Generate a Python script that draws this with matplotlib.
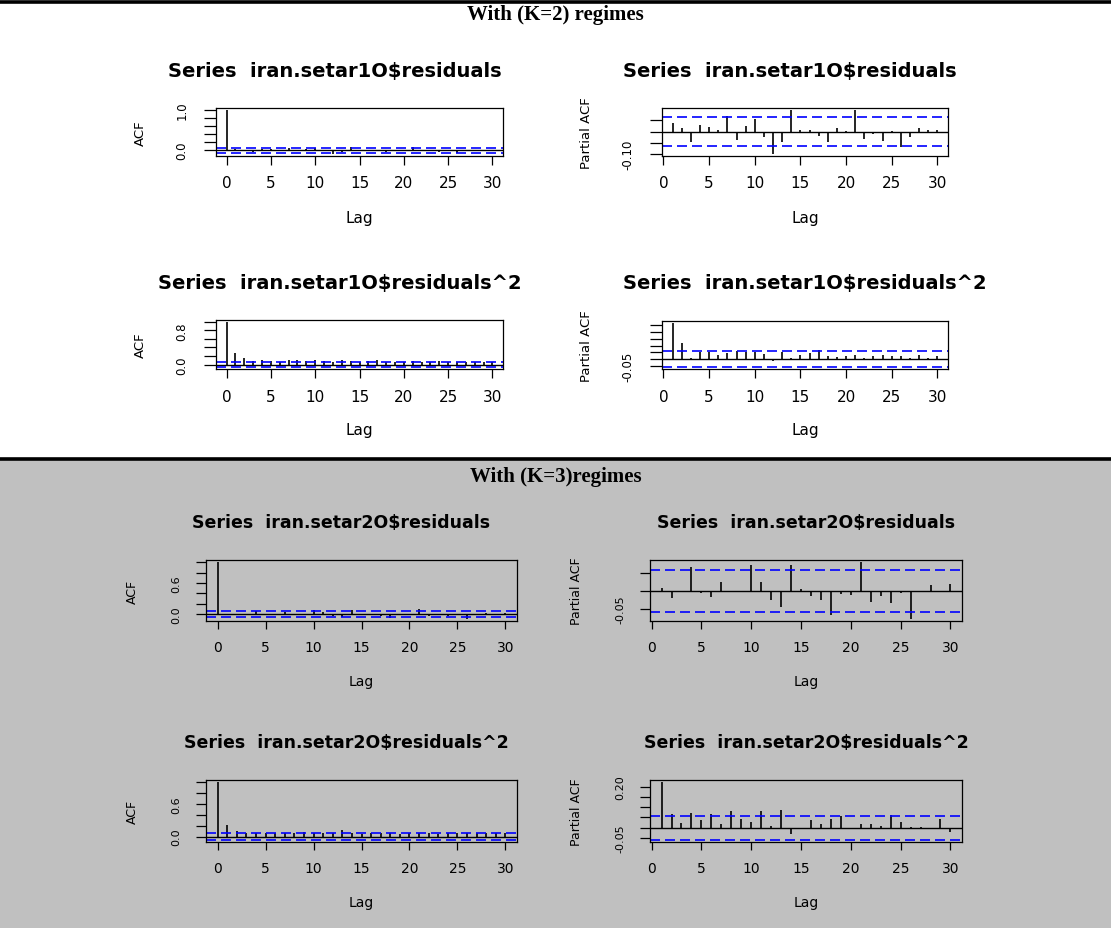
import matplotlib.pyplot as plt
import matplotlib.transforms as mtransforms
from matplotlib.patches import Rectangle
from matplotlib.lines import Line2D
import numpy as np

W, H = 1111, 929

lags_acf = list(range(0, 31))
lags_pacf = list(range(1, 31))

# SETAR with 2 regimes (iran.setar1O)
acf_res_k2 = [1.0, 0.035, 0.012, -0.040, 0.028, 0.020, 0.008, 0.062, -0.030, 0.024, 0.048,
              -0.020, -0.100, -0.040, 0.085, 0.006, 0.004, -0.020, -0.040, 0.012, 0.004,
              0.090, -0.030, -0.012, -0.038, 0.006, -0.062, -0.020, 0.014, 0.008, 0.005]
pacf_res_k2 = [0.037, 0.015, -0.044, 0.030, 0.022, 0.005, 0.069, -0.037, 0.025, 0.054,
               -0.022, -0.100, -0.044, 0.093, 0.005, 0.005, -0.019, -0.044, 0.015, 0.003,
               0.096, -0.034, -0.010, -0.041, 0.004, -0.069, -0.022, 0.015, 0.006, 0.006]
acf_sq_k2 = [1.0, 0.28, 0.15, 0.08, 0.10, 0.09, 0.07, 0.10, 0.11, 0.09, 0.10, 0.08, 0.06,
             0.10, 0.08, 0.07, 0.09, 0.10, 0.07, 0.06, 0.07, 0.08, 0.06, 0.07, 0.08, 0.07,
             0.06, 0.07, 0.06, 0.07, 0.06]
pacf_sq_k2 = [0.27, 0.12, 0.01, 0.05, 0.05, 0.03, 0.045, 0.06, 0.05, 0.05, 0.035, -0.015,
              0.055, 0.01, 0.03, 0.045, 0.065, 0.02, 0.015, 0.025, 0.03, 0.01, 0.02, 0.03,
              0.02, 0.025, 0.01, 0.03, 0.01, 0.02]
n_used_k2 = 1000

# SETAR with 3 regimes (iran.setar2O)
acf_res_k3 = [1.0, 0.010, -0.022, -0.005, 0.068, -0.008, -0.020, 0.035, -0.004, -0.003, 0.070,
              0.035, -0.030, -0.055, 0.085, 0.005, -0.015, -0.032, -0.080, -0.010, -0.015,
              0.090, -0.040, -0.020, -0.045, -0.010, -0.090, -0.006, 0.018, -0.004, 0.020]
pacf_res_k3 = [0.008, -0.020, -0.003, 0.066, -0.005, -0.016, 0.026, -0.002, -0.002, 0.072,
               0.026, -0.026, -0.044, 0.072, 0.004, -0.013, -0.026, -0.067, -0.009, -0.012,
               0.080, -0.031, -0.015, -0.035, -0.007, -0.078, -0.004, 0.015, -0.004, 0.018]
acf_sq_k3 = [1.0, 0.22, 0.105, 0.06, 0.07, 0.06, 0.06, 0.07, 0.06, 0.08, 0.06, 0.07, 0.06,
             0.12, 0.06, 0.05, 0.06, 0.07, 0.06, 0.05, 0.06, 0.07, 0.06, 0.05, 0.07, 0.06,
             0.06, 0.07, 0.06, 0.07, 0.06]
pacf_sq_k3 = [0.221, 0.065, 0.024, 0.070, 0.037, 0.065, 0.016, 0.081, 0.044, 0.030, 0.081,
              0.008, 0.087, -0.030, -0.002, 0.037, 0.016, 0.044, 0.056, -0.005, 0.016, 0.016,
              0.010, 0.060, 0.030, 0.006, 0.006, -0.002, 0.041, -0.022]
n_used_k3 = 1140

fig = plt.figure(figsize=(W / 100, H / 100), dpi=100)

# white upper block, grey lower block, thick rules
fig.patches.append(Rectangle((0, 0), 1, 1 - 461 / H, transform=fig.transFigure,
                             facecolor='#c0c0c0', edgecolor='none', zorder=-5))
fig.add_artist(Line2D([0, 1], [1 - 3 / H] * 2, color='black', lw=2.6))
fig.add_artist(Line2D([0, 1], [1 - 460 / H] * 2, color='black', lw=2.6))
fig.text(0.5, 1 - 15 / H, 'With (K=2) regimes', ha='center', va='center',
         family='Liberation Serif', weight='bold', fontsize=15)
fig.text(0.5, 1 - 477 / H, 'With (K=3)regimes', ha='center', va='center',
         family='Liberation Serif', weight='bold', fontsize=15)

top = dict(title=14, tick=11, ylab=9.5, ytick=8.5, xlen=6.5, ylen=8.6,
           tick_off=27, lag_off=61, ytick_off=34, ylab_off=76)
bot = dict(title=12.5, tick=10, ylab=9, ytick=8, xlen=5.5, ylen=7.2,
           tick_off=26, lag_off=60, ytick_off=30, ylab_off=74)


def px(ax, dx=0, dy=0):
    return mtransforms.offset_copy(ax.transAxes, fig=fig, x=dx * 0.72, y=dy * 0.72,
                                   units='points')


def corr_panel(box, lags, vals, n_used, title, ylab, yticks, ylabels, st, title_dx=0):
    x0, y0, x1, y1 = box
    ax = fig.add_axes([x0 / W, 1 - y1 / H, (x1 - x0) / W, (y1 - y0) / H])
    ax.set_facecolor('none')
    ci = 1.96 / np.sqrt(n_used)
    ax.vlines(lags, 0, vals, color='black', lw=1.2)
    ax.axhline(0, color='black', lw=1.0)
    for c in (ci, -ci):
        ax.axhline(c, color='#0000ff', lw=1.2, ls=(0, (6, 3)))

    lo = min(min(vals), -ci)
    hi = max(max(vals), ci)
    ax.set_ylim(lo - 0.04 * (hi - lo), hi + 0.04 * (hi - lo))
    xl = (lags[-1] - lags[0]) * 0.04
    ax.set_xlim(lags[0] - xl, lags[-1] + xl)

    ax.set_xticks(range(0, 31, 5))
    ax.set_xticklabels([])
    ax.set_yticks(yticks)
    ax.set_yticklabels([])
    ax.tick_params(axis='x', length=st['xlen'], width=0.9)
    ax.tick_params(axis='y', length=st['ylen'], width=0.9)
    for s in ax.spines.values():
        s.set_linewidth(0.9)

    for t in range(0, 31, 5):
        ax.text(t, 0, str(t), fontsize=st['tick'], ha='center', va='center',
                transform=mtransforms.blended_transform_factory(ax.transData, px(ax, 0, -st['tick_off'])))
    for v, lab in zip(yticks, ylabels):
        if lab:
            ax.text(0, v, lab, fontsize=st['ytick'], ha='center', va='center', rotation=90,
                    transform=mtransforms.blended_transform_factory(px(ax, -st['ytick_off'], 0), ax.transData))

    ax.text(0.5, 1, title, transform=px(ax, title_dx, 38), ha='center', va='center',
            fontsize=st['title'], weight='bold')
    ax.text(0.5, 0, 'Lag', transform=px(ax, 0, -st['lag_off']), ha='center', va='center',
            fontsize=st['tick'])
    ax.text(0, 0.5, ylab, transform=px(ax, -st['ylab_off'], 0), ha='center', va='center',
            rotation=90, fontsize=st['ylab'])
    return ax


unit = [0, 0.2, 0.4, 0.6, 0.8, 1.0]

corr_panel((216, 109, 503, 157), lags_acf, acf_res_k2, n_used_k2,
           'Series  iran.setar1O$residuals', 'ACF', unit,
           ['0.0', '', '', '', '', '1.0'], top, title_dx=-25)
corr_panel((662, 109, 948, 157), lags_pacf, pacf_res_k2, n_used_k2,
           'Series  iran.setar1O$residuals', 'Partial ACF', [-0.10, -0.05, 0, 0.05],
           ['-0.10', '', '', ''], top, title_dx=-15)
corr_panel((216, 321, 503, 370), lags_acf, acf_sq_k2, n_used_k2,
           'Series  iran.setar1O$residuals^2', 'ACF', unit,
           ['0.0', '', '', '', '0.8', ''], top, title_dx=-20)
corr_panel((662, 322, 948, 370), lags_pacf, pacf_sq_k2, n_used_k2,
           'Series  iran.setar1O$residuals^2', 'Partial ACF',
           [-0.05, 0, 0.05, 0.10, 0.15, 0.20, 0.25],
           ['-0.05', '', '', '', '', '', ''], top)

corr_panel((206, 561, 517, 622), lags_acf, acf_res_k3, n_used_k3,
           'Series  iran.setar2O$residuals', 'ACF', unit,
           ['0.0', '', '', '0.6', '', ''], bot, title_dx=-20)
corr_panel((650, 561, 962, 622), lags_pacf, pacf_res_k3, n_used_k3,
           'Series  iran.setar2O$residuals', 'Partial ACF', [-0.05, 0, 0.05],
           ['-0.05', '', ''], bot)
corr_panel((206, 781, 517, 843), lags_acf, acf_sq_k3, n_used_k3,
           'Series  iran.setar2O$residuals^2', 'ACF', unit,
           ['0.0', '', '', '0.6', '', ''], bot, title_dx=-15)
corr_panel((650, 781, 962, 843), lags_pacf, pacf_sq_k3, n_used_k3,
           'Series  iran.setar2O$residuals^2', 'Partial ACF',
           [-0.05, 0, 0.05, 0.10, 0.15, 0.20],
           ['-0.05', '', '', '', '', '0.20'], bot)

fig.savefig('out.png', dpi=100)
